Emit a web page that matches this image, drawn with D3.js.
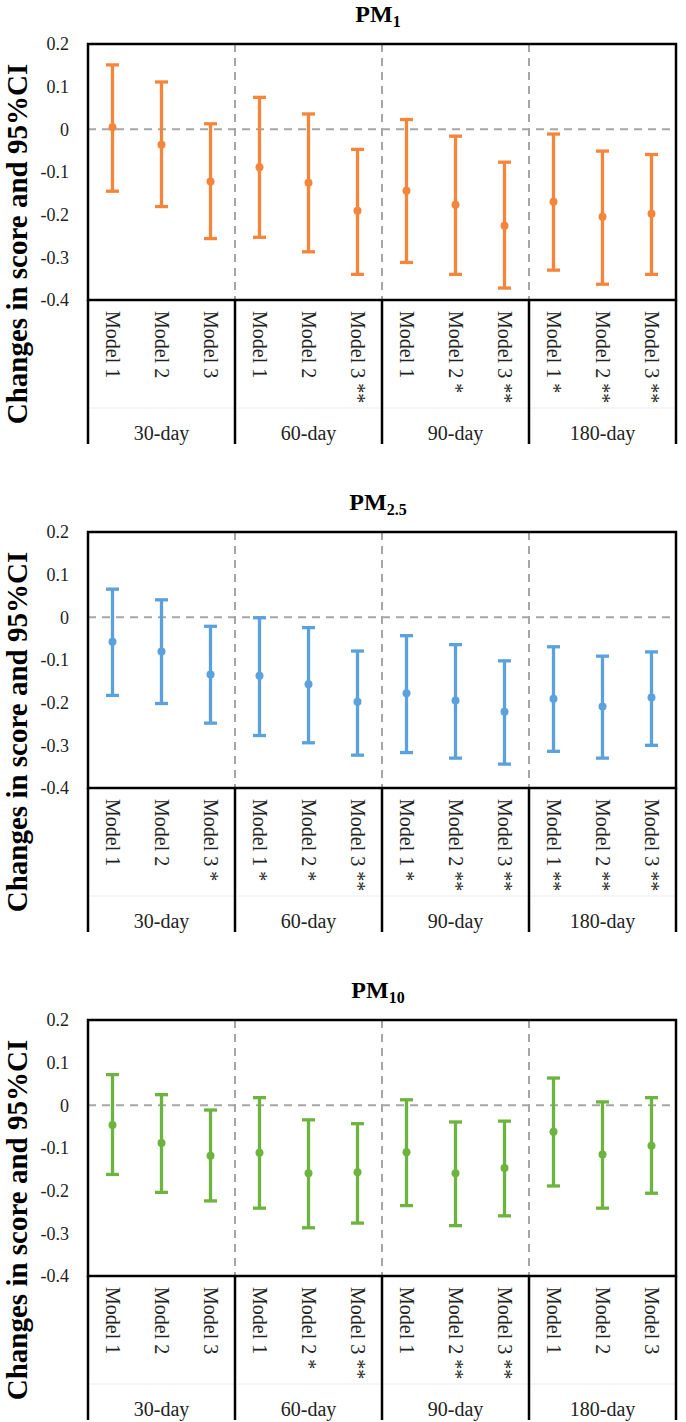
<!DOCTYPE html>
<html>
<head>
<meta charset="utf-8">
<script src="https://cdn.jsdelivr.net/npm/d3@7"></script>
<style>
  html, body { margin: 0; padding: 0; background: #fff; }
  svg { display: block; }
  svg text { font-family: "Liberation Serif", "DejaVu Serif", serif !important; }
</style>
</head>
<body>
<script>
// ---------- data ----------
const groups = ["30-day", "60-day", "90-day", "180-day"];
const models = ["Model 1", "Model 2", "Model 3"];
const yTicks = [0.2, 0.1, 0, -0.1, -0.2, -0.3, -0.4];
const titleBase = ["PM", "PM", "PM"];
const titleSub = ["1", "2.5", "10"];
const colors = ["#F5853A", "#5BA1DD", "#6DB33F"];

const pm1Est  = [0.005, -0.036, -0.122, -0.089, -0.125, -0.191, -0.144, -0.177, -0.226, -0.170, -0.205, -0.198];
const pm1Low  = [-0.145, -0.181, -0.256, -0.253, -0.287, -0.340, -0.312, -0.340, -0.372, -0.330, -0.363, -0.340];
const pm1High = [0.151, 0.111, 0.013, 0.075, 0.036, -0.047, 0.023, -0.016, -0.077, -0.011, -0.051, -0.059];
const pm1Sig  = ["", "", "", "", "", "**", "", "*", "**", "*", "**", "**"];

const pm25Est  = [-0.057, -0.080, -0.134, -0.137, -0.157, -0.198, -0.178, -0.195, -0.221, -0.191, -0.209, -0.188];
const pm25Low  = [-0.183, -0.202, -0.248, -0.277, -0.294, -0.323, -0.317, -0.330, -0.344, -0.314, -0.330, -0.300];
const pm25High = [0.066, 0.041, -0.021, -0.001, -0.024, -0.079, -0.043, -0.064, -0.102, -0.069, -0.091, -0.081];
const pm25Sig  = ["", "", "*", "*", "*", "**", "*", "**", "**", "**", "**", "**"];

const pm10Est  = [-0.046, -0.088, -0.118, -0.111, -0.159, -0.157, -0.110, -0.159, -0.147, -0.062, -0.115, -0.095];
const pm10Low  = [-0.162, -0.204, -0.224, -0.241, -0.287, -0.276, -0.235, -0.282, -0.259, -0.189, -0.241, -0.206];
const pm10High = [0.072, 0.025, -0.011, 0.018, -0.034, -0.043, 0.013, -0.039, -0.037, 0.064, 0.008, 0.018];
const pm10Sig  = ["", "", "", "", "*", "**", "", "**", "**", "", "", ""];

// ---------- build ----------
const cats = [];
groups.forEach(g => models.forEach(m => cats.push(g + "|" + m)));

const panels = [
  { est: pm1Est, low: pm1Low, high: pm1High, sig: pm1Sig },
  { est: pm25Est, low: pm25Low, high: pm25High, sig: pm25Sig },
  { est: pm10Est, low: pm10Low, high: pm10High, sig: pm10Sig }
].map((p, i) => ({
  ...p, color: colors[i], base: titleBase[i], sub: titleSub[i],
  rows: cats.map((c, j) => ({ cat: c, group: c.split("|")[0], model: c.split("|")[1],
    est: p.est[j], low: p.low[j], high: p.high[j], sig: p.sig[j] }))
}));

const W = 686, H = 1422;
const left = 88, right = 676;
const plotH = 256, catH = 144, step = 488, firstTop = 44;
const serif = "'Liberation Serif', 'DejaVu Serif', serif";

const svg = d3.select("body").append("svg").attr("width", W).attr("height", H)
  .style("font-family", serif);

const x = d3.scaleBand().domain(cats).range([left, right]);
const gx = d3.scaleBand().domain(groups).range([left, right]);

panels.forEach((p, i) => {
  const top = firstTop + i * step;
  const bottom = top + plotH;
  const y = d3.scaleLinear().domain([-0.4, 0.2]).range([bottom, top]);
  const g = svg.append("g");

  // title
  const t = g.append("text")
    .attr("x", (left + right) / 2 - 4).attr("y", top - 22)
    .attr("text-anchor", "middle")
    .attr("font-weight", "bold").attr("font-size", 24).attr("fill", "#000");
  t.append("tspan").text(p.base);
  t.append("tspan").attr("font-size", 16).attr("dy", 5).text(p.sub);

  // dashed grid lines
  g.append("line")
    .attr("x1", left).attr("x2", right).attr("y1", y(0)).attr("y2", y(0))
    .attr("stroke", "#A6A6A6").attr("stroke-width", 2).attr("stroke-dasharray", "8,6");
  g.selectAll("line.vgrid").data(groups.slice(1)).join("line").attr("class", "vgrid")
    .attr("x1", d => gx(d)).attr("x2", d => gx(d)).attr("y1", top).attr("y2", bottom)
    .attr("stroke", "#A6A6A6").attr("stroke-width", 2).attr("stroke-dasharray", "8,6");

  // y axis
  const ax = g.append("g").attr("transform", `translate(${left},0)`)
    .call(d3.axisLeft(y).tickValues(yTicks).tickSize(0).tickPadding(19).tickFormat(d => String(d)));
  ax.attr("font-family", null).attr("font-size", null);
  ax.select(".domain").remove();
  ax.selectAll("text").style("font-family", serif)
    .attr("font-size", 18).attr("fill", "#222");

  // error bars
  const cap = 13;
  const bars = g.append("g").selectAll("g").data(p.rows).join("g")
    .attr("transform", d => `translate(${x(d.cat) + x.bandwidth() / 2},0)`);
  bars.append("line").attr("y1", d => y(d.low)).attr("y2", d => y(d.high))
    .attr("stroke", p.color).attr("stroke-width", 3.3);
  bars.append("line").attr("x1", -cap / 2).attr("x2", cap / 2)
    .attr("y1", d => y(d.high)).attr("y2", d => y(d.high))
    .attr("stroke", p.color).attr("stroke-width", 3.3);
  bars.append("line").attr("x1", -cap / 2).attr("x2", cap / 2)
    .attr("y1", d => y(d.low)).attr("y2", d => y(d.low))
    .attr("stroke", p.color).attr("stroke-width", 3.3);
  bars.append("circle").attr("cy", d => y(d.est)).attr("r", 4).attr("fill", p.color);

  // plot border
  g.append("rect").attr("x", left).attr("y", top).attr("width", right - left).attr("height", plotH)
    .attr("fill", "none").attr("stroke", "#000").attr("stroke-width", 2.5);

  // category area
  g.append("line").attr("x1", left).attr("x2", right)
    .attr("y1", bottom + 108).attr("y2", bottom + 108)
    .attr("stroke", "#ececec").attr("stroke-width", 1);
  const bounds = groups.map(d => gx(d)).concat([right]);
  g.selectAll("line.sep").data(bounds).join("line").attr("class", "sep")
    .attr("x1", d => d).attr("x2", d => d).attr("y1", bottom).attr("y2", bottom + catH)
    .attr("stroke", "#000").attr("stroke-width", 2.5);

  g.selectAll("text.model").data(p.rows).join("text").attr("class", "model")
    .attr("transform", d => `translate(${x(d.cat) + x.bandwidth() / 2},${bottom + 11}) rotate(90)`)
    .attr("dy", "0.34em").attr("font-size", 20).attr("fill", "#222")
    .text(d => d.model + (d.sig ? " " + d.sig : ""));

  g.selectAll("text.grp").data(groups).join("text").attr("class", "grp")
    .attr("x", d => gx(d) + gx.bandwidth() / 2).attr("y", bottom + 133)
    .attr("dy", "0.35em").attr("text-anchor", "middle")
    .attr("font-size", 20).attr("fill", "#222").text(d => d);

  // y title
  g.append("text")
    .attr("transform", `translate(27,${top + (plotH + catH) / 2}) rotate(-90)`)
    .attr("text-anchor", "middle").attr("font-weight", "bold").attr("font-size", 29)
    .attr("fill", "#000").text("Changes in score and 95%CI");
});
</script>
</body>
</html>
